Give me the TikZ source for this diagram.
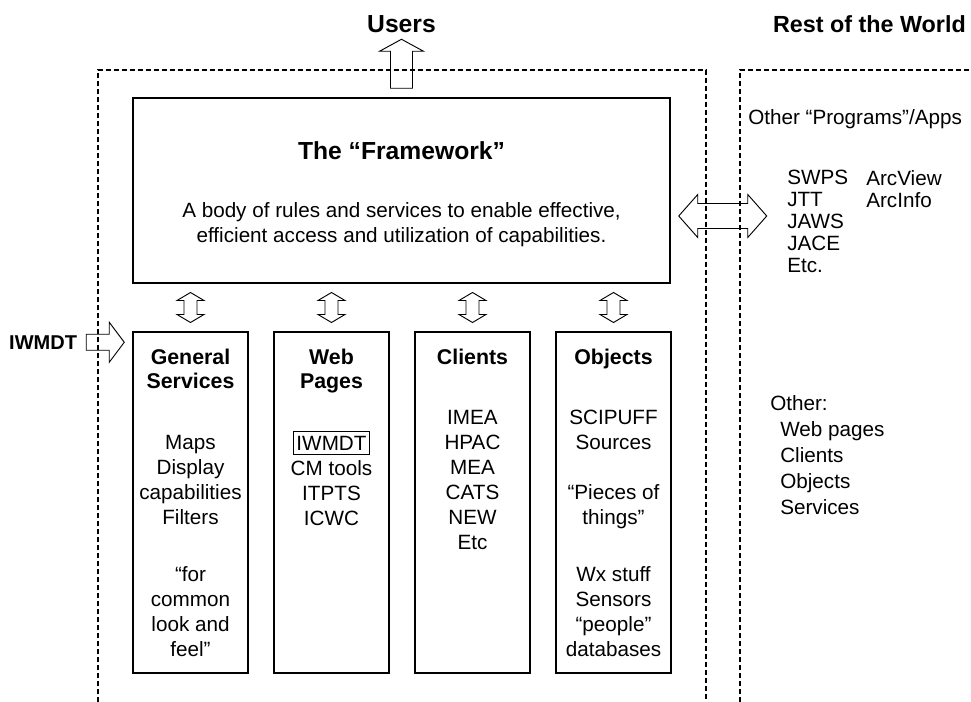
\documentclass[tikz,border=0pt]{standalone}
\usepackage{fontspec}
\setmainfont{Liberation Sans}
\usetikzlibrary{calc}
\newcommand{\bodyfont}{\fontsize{15.5}{18.75}\selectfont}
\newcommand{\listfont}{\fontsize{15.5}{16.5}\selectfont}
\newcommand{\otherfont}{\fontsize{15.5}{19.5}\selectfont}
\newcommand{\headfont}{\fontsize{16}{18}\selectfont\bfseries}
\newcommand{\bigfont}{\fontsize{18.5}{22}\selectfont\bfseries}

\tikzset{
  region/.style={dash pattern=on 3.75pt off 2.25pt, line width=0.9pt},
  layer/.style={draw, line width=1.1pt, minimum width=86.25pt, minimum height=255.75pt},
  blockarrow/.style={draw, line width=0.7pt},
  txt/.style={inner sep=0pt, align=center, font=\bodyfont},
}

\begin{document}
\begin{tikzpicture}[x=0.75pt, y=-0.75pt]
\useasboundingbox (0,0) rectangle (971,702);

% Regions
\draw[region] (98,702) -- (98,70) -- (706,70) -- (706,702);
\draw[region] (740,702) -- (740,70) -- (971,70);
\node[txt, anchor=base, font=\bigfont] (users) at (401.5,33) {Users};
\node[txt, anchor=base east, font=\fontsize{17.5}{21}\selectfont\bfseries] (world) at (966,33) {Rest of the World};

% Framework
\node[draw, line width=1.1pt, minimum width=402.75pt, minimum height=138.75pt] (fw) at (401.5,190.5) {};
\node[txt, anchor=base, font=\bigfont] (fwtitle) at (401.5,160) {The “Framework”};
\node[txt, anchor=north] (fwtext) at (401.5,202.2) {A body of rules and services to enable effective,\\efficient access and utilization of capabilities.};

% Layers
\node[layer] (gs) at (190.5,502.5) {};
\node[layer] (wp) at (331.5,502.5) {};
\node[layer] (cl) at (472.5,502.5) {};
\node[layer] (ob) at (613.5,502.5) {};

\node[txt, anchor=north, font=\headfont] (gstitle) at (190.5,348.7) {General\\Services};
\node[txt, anchor=north] (gstext) at (190.5,435.2) {Maps\\Display\\capabilities\\Filters\\[24pt]“for\\common\\look and\\feel”};

\node[txt, anchor=north, font=\headfont] (wptitle) at (331.5,348.7) {Web\\Pages};
\node[txt, anchor=base, draw, line width=0.6pt, inner xsep=2.5pt, inner ysep=3.4pt] (wpiw) at (331.5,450) {IWMDT};
\node[txt, anchor=north] (wptext) at (331.5,460.2) {CM tools\\ITPTS\\ICWC};

\node[txt, anchor=north, font=\headfont] (cltitle) at (472.5,348.7) {Clients};
\node[txt, anchor=north] (cltext) at (472.5,410.2) {IMEA\\HPAC\\MEA\\CATS\\NEW\\Etc};

\node[txt, anchor=north, font=\headfont] (obtitle) at (613.5,348.7) {Objects};
\node[txt, anchor=north] (obtext) at (613.5,410.2) {SCIPUFF\\Sources\\[18.75pt]“Pieces of\\things”\\[24pt]Wx stuff\\Sensors\\“people”\\databases};

% Rest of the world
\node[txt, anchor=base west] (apps) at (748,125) {Other “Programs”/Apps};
\node[txt, align=left, anchor=north west, font=\listfont] (progs) at (787,170.2) {SWPS\\JTT\\JAWS\\JACE\\Etc.};
\node[txt, align=left, anchor=north west, font=\listfont] (arcs) at (866,170.2) {ArcView\\ArcInfo};
\node[txt, anchor=base west] (other) at (770,410) {Other:};
\node[txt, align=left, anchor=north west, font=\otherfont] (others) at (780,421.2) {Web pages\\Clients\\Objects\\Services};

% Block arrows
\draw[blockarrow, shift={(fw.north)}] (0,-58) -- (22,-46) -- (11,-46) -- (11,-9) -- (-11,-9) -- (-11,-46) -- (-22,-46) -- cycle;

\coordinate (link) at ($(fw.east)+(52,25.5)$);
\draw[blockarrow, shift={(link)}] (-44,0) -- (-25,-21.5) -- (-25,-12.5) -- (25,-12.5) -- (25,-21.5) -- (44,0) -- (25,21.5) -- (25,12.5) -- (-25,12.5) -- (-25,21.5) -- cycle;

\coordinate (iwtip) at ($(gs.north west)+(-8,11)$);
\draw[blockarrow, shift={(iwtip)}] (0,0) -- (-15,-20) -- (-15,-8) -- (-38,-8) -- (-38,8) -- (-15,8) -- (-15,20) -- cycle;
\node[txt, anchor=east, font=\fontsize{15}{18}\selectfont\bfseries] (iwlabel) at ($(iwtip)+(-47,0)$) {IWMDT};

\foreach \b in {gs,wp,cl,ob}
  \draw[blockarrow, shift={($(\b.north)!0.5!(\b.north |- fw.south)$)}] (0,-15) -- (13.5,-7) -- (6.5,-7) -- (6.5,7) -- (13.5,7) -- (0,15) -- (-13.5,7) -- (-6.5,7) -- (-6.5,-7) -- (-13.5,-7) -- cycle;
\end{tikzpicture}
\end{document}
